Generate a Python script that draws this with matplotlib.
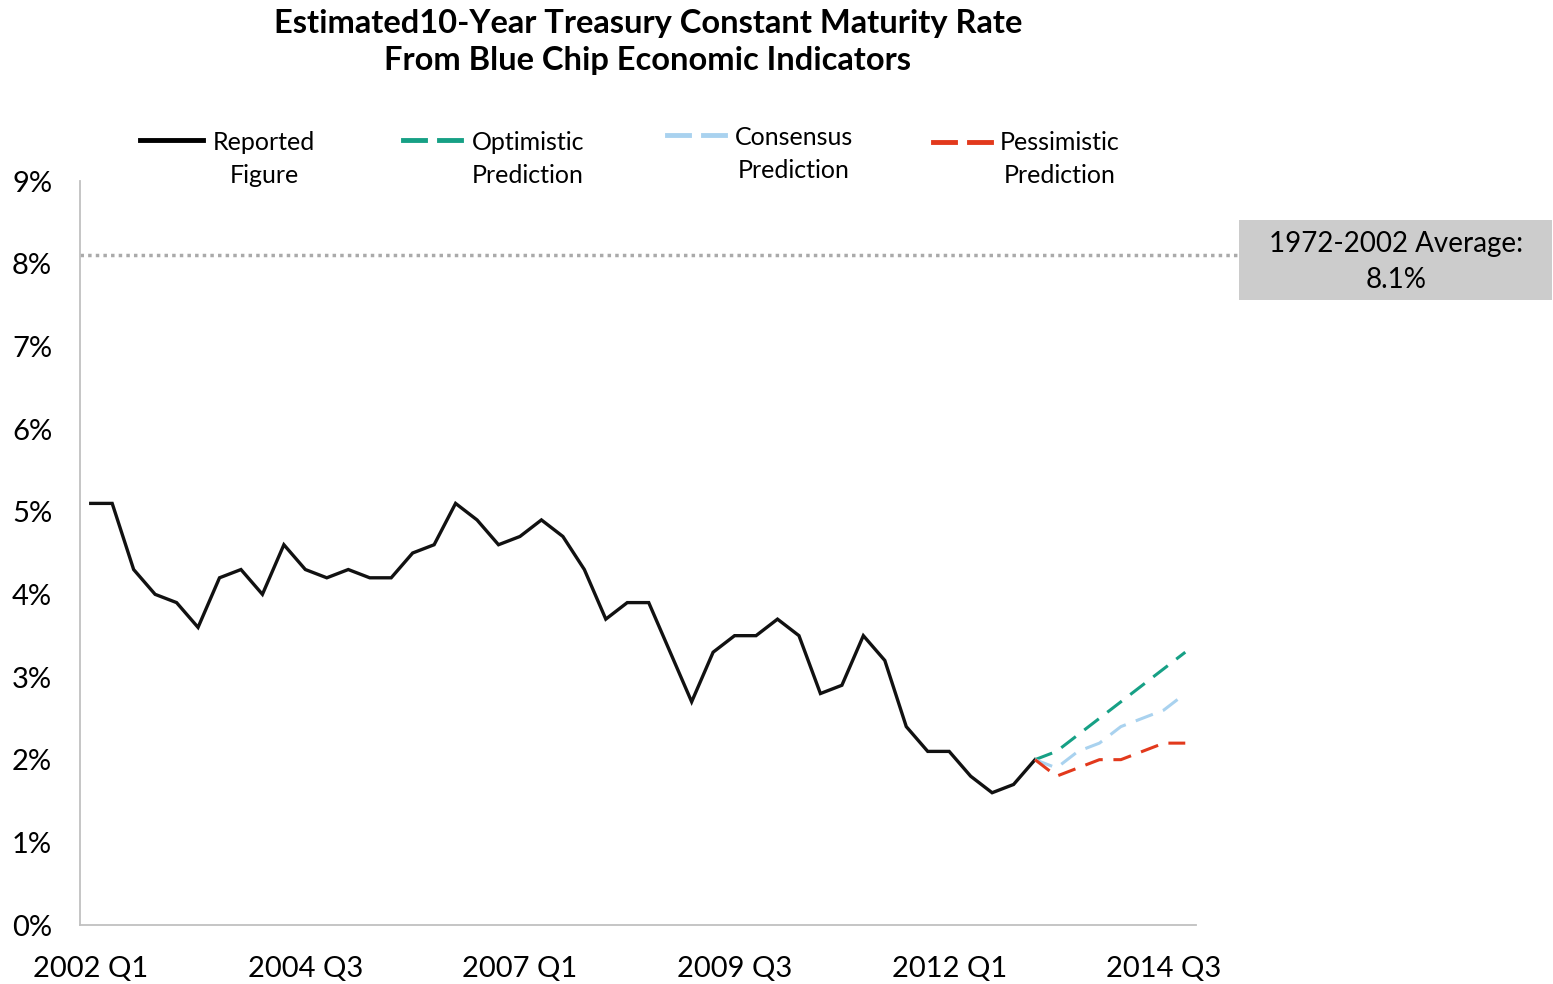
"""
10-year treasury rate: reported quarterly figures plus three forecast paths.
"""

import matplotlib.pyplot as plt
from matplotlib.lines import Line2D
from matplotlib.patches import Rectangle

plt.rcParams["font.family"] = ["Lato", "DejaVu Sans"]

# quarters 2002 Q1 .. 2014 Q4
quarters = [f"{2002 + i // 4} Q{i % 4 + 1}" for i in range(52)]
tick_idx = [0, 10, 20, 30, 40, 50]

reported = [5.1, 5.1, 4.3, 4.0, 3.9, 3.6, 4.2, 4.3, 4.0, 4.6,
            4.3, 4.2, 4.3, 4.2, 4.2, 4.5, 4.6, 5.1, 4.9, 4.6,
            4.7, 4.9, 4.7, 4.3, 3.7, 3.9, 3.9, 3.3, 2.7, 3.3,
            3.5, 3.5, 3.7, 3.5, 2.8, 2.9, 3.5, 3.2, 2.4, 2.1,
            2.1, 1.8, 1.6, 1.7, 2.0]

# forecasts start at the last reported quarter (index 44)
forecast_start = 44
optimistic = [2.0, 2.1, 2.3, 2.5, 2.7, 2.9, 3.1, 3.3]
consensus = [2.0, 1.9, 2.1, 2.2, 2.4, 2.5, 2.6, 2.8]
pessimistic = [2.0, 1.8, 1.9, 2.0, 2.0, 2.1, 2.2, 2.2]

hist_avg = 8.1

C_TEAL = "#16a085"
C_BLUE = "#a9d2ef"
C_RED = "#e2391c"


def main():
    fig = plt.figure(figsize=(15.53, 9.84), dpi=100)
    ax = fig.add_axes([80 / 1553, 1 - 925 / 984, (1196 - 80) / 1553, (925 - 181) / 984])

    x_rep = list(range(len(reported)))
    x_fc = list(range(forecast_start, forecast_start + len(optimistic)))

    ax.plot(x_rep, reported, color="#111111", lw=2.4, solid_joinstyle="miter")
    ax.plot(x_fc, optimistic, color=C_TEAL, lw=2.2, dashes=(6, 3.5))
    ax.plot(x_fc, consensus, color=C_BLUE, lw=2.2, dashes=(6, 3.5))
    ax.plot(x_fc, pessimistic, color=C_RED, lw=2.2, dashes=(6, 3.5))

    ax.axhline(hist_avg, xmin=0, xmax=(1239 - 80) / (1196 - 80), color="#aaaaaa",
               lw=2.5, ls=(0, (1, 1.2)), clip_on=False)

    ax.set_xlim(-0.5, 51.5)
    ax.set_ylim(0, 9)
    ax.set_xticks(tick_idx)
    ax.set_xticklabels([quarters[i] for i in tick_idx])
    ax.set_yticks(range(10))
    ax.set_yticklabels([f"{v}%" for v in range(10)])
    ax.tick_params(axis="both", length=0, labelsize=21)
    ax.tick_params(axis="x", pad=22)
    ax.tick_params(axis="y", pad=20)

    for s in ("top", "right"):
        ax.spines[s].set_visible(False)
    for s in ("left", "bottom"):
        ax.spines[s].set_color("#c0c0c0")
        ax.spines[s].set_linewidth(1.3)

    # title
    fig.text(648 / 1553, 1 - 42 / 984,
             "Estimated10-Year Treasury Constant Maturity Rate\nFrom Blue Chip Economic Indicators",
             ha="center", va="center", fontsize=23.5, fontweight="bold", linespacing=1.3)

    # legend, drawn by hand
    def fx(px):
        return px / 1553

    def fy(py):
        return 1 - py / 984

    fig.add_artist(Line2D([fx(140), fx(203)], [fy(140), fy(140)], color="black", lw=3.5))
    entries = [
        (403, 140, C_TEAL, 528, 159, "Optimistic\nPrediction"),
        (667, 135, C_BLUE, 794, 154, "Consensus\nPrediction"),
        (933, 142, C_RED, 1060, 159, "Pessimistic\nPrediction"),
    ]
    for x0, yl, col, tx, ty, lab in entries:
        fig.add_artist(Line2D([fx(x0), fx(x0 + 22)], [fy(yl), fy(yl)], color=col, lw=3.5))
        fig.add_artist(Line2D([fx(x0 + 36), fx(x0 + 58)], [fy(yl), fy(yl)], color=col, lw=3.5))
        fig.text(fx(tx), fy(ty), lab, ha="center", va="center", fontsize=18, linespacing=1.48)
    fig.text(fx(264), fy(159), "Reported\nFigure", ha="center", va="center",
             fontsize=18, linespacing=1.48)

    # average box
    fig.add_artist(Rectangle((fx(1239), fy(300)), fx(1552) - fx(1239), fy(220) - fy(300),
                             facecolor="#cccccc", edgecolor="none", transform=fig.transFigure))
    fig.text(fx(1396), fy(262), f"1972-2002 Average:\n{hist_avg}%", ha="center", va="center",
             fontsize=20, linespacing=1.52)

    fig.savefig("out.png", dpi=100)


if __name__ == "__main__":
    main()
